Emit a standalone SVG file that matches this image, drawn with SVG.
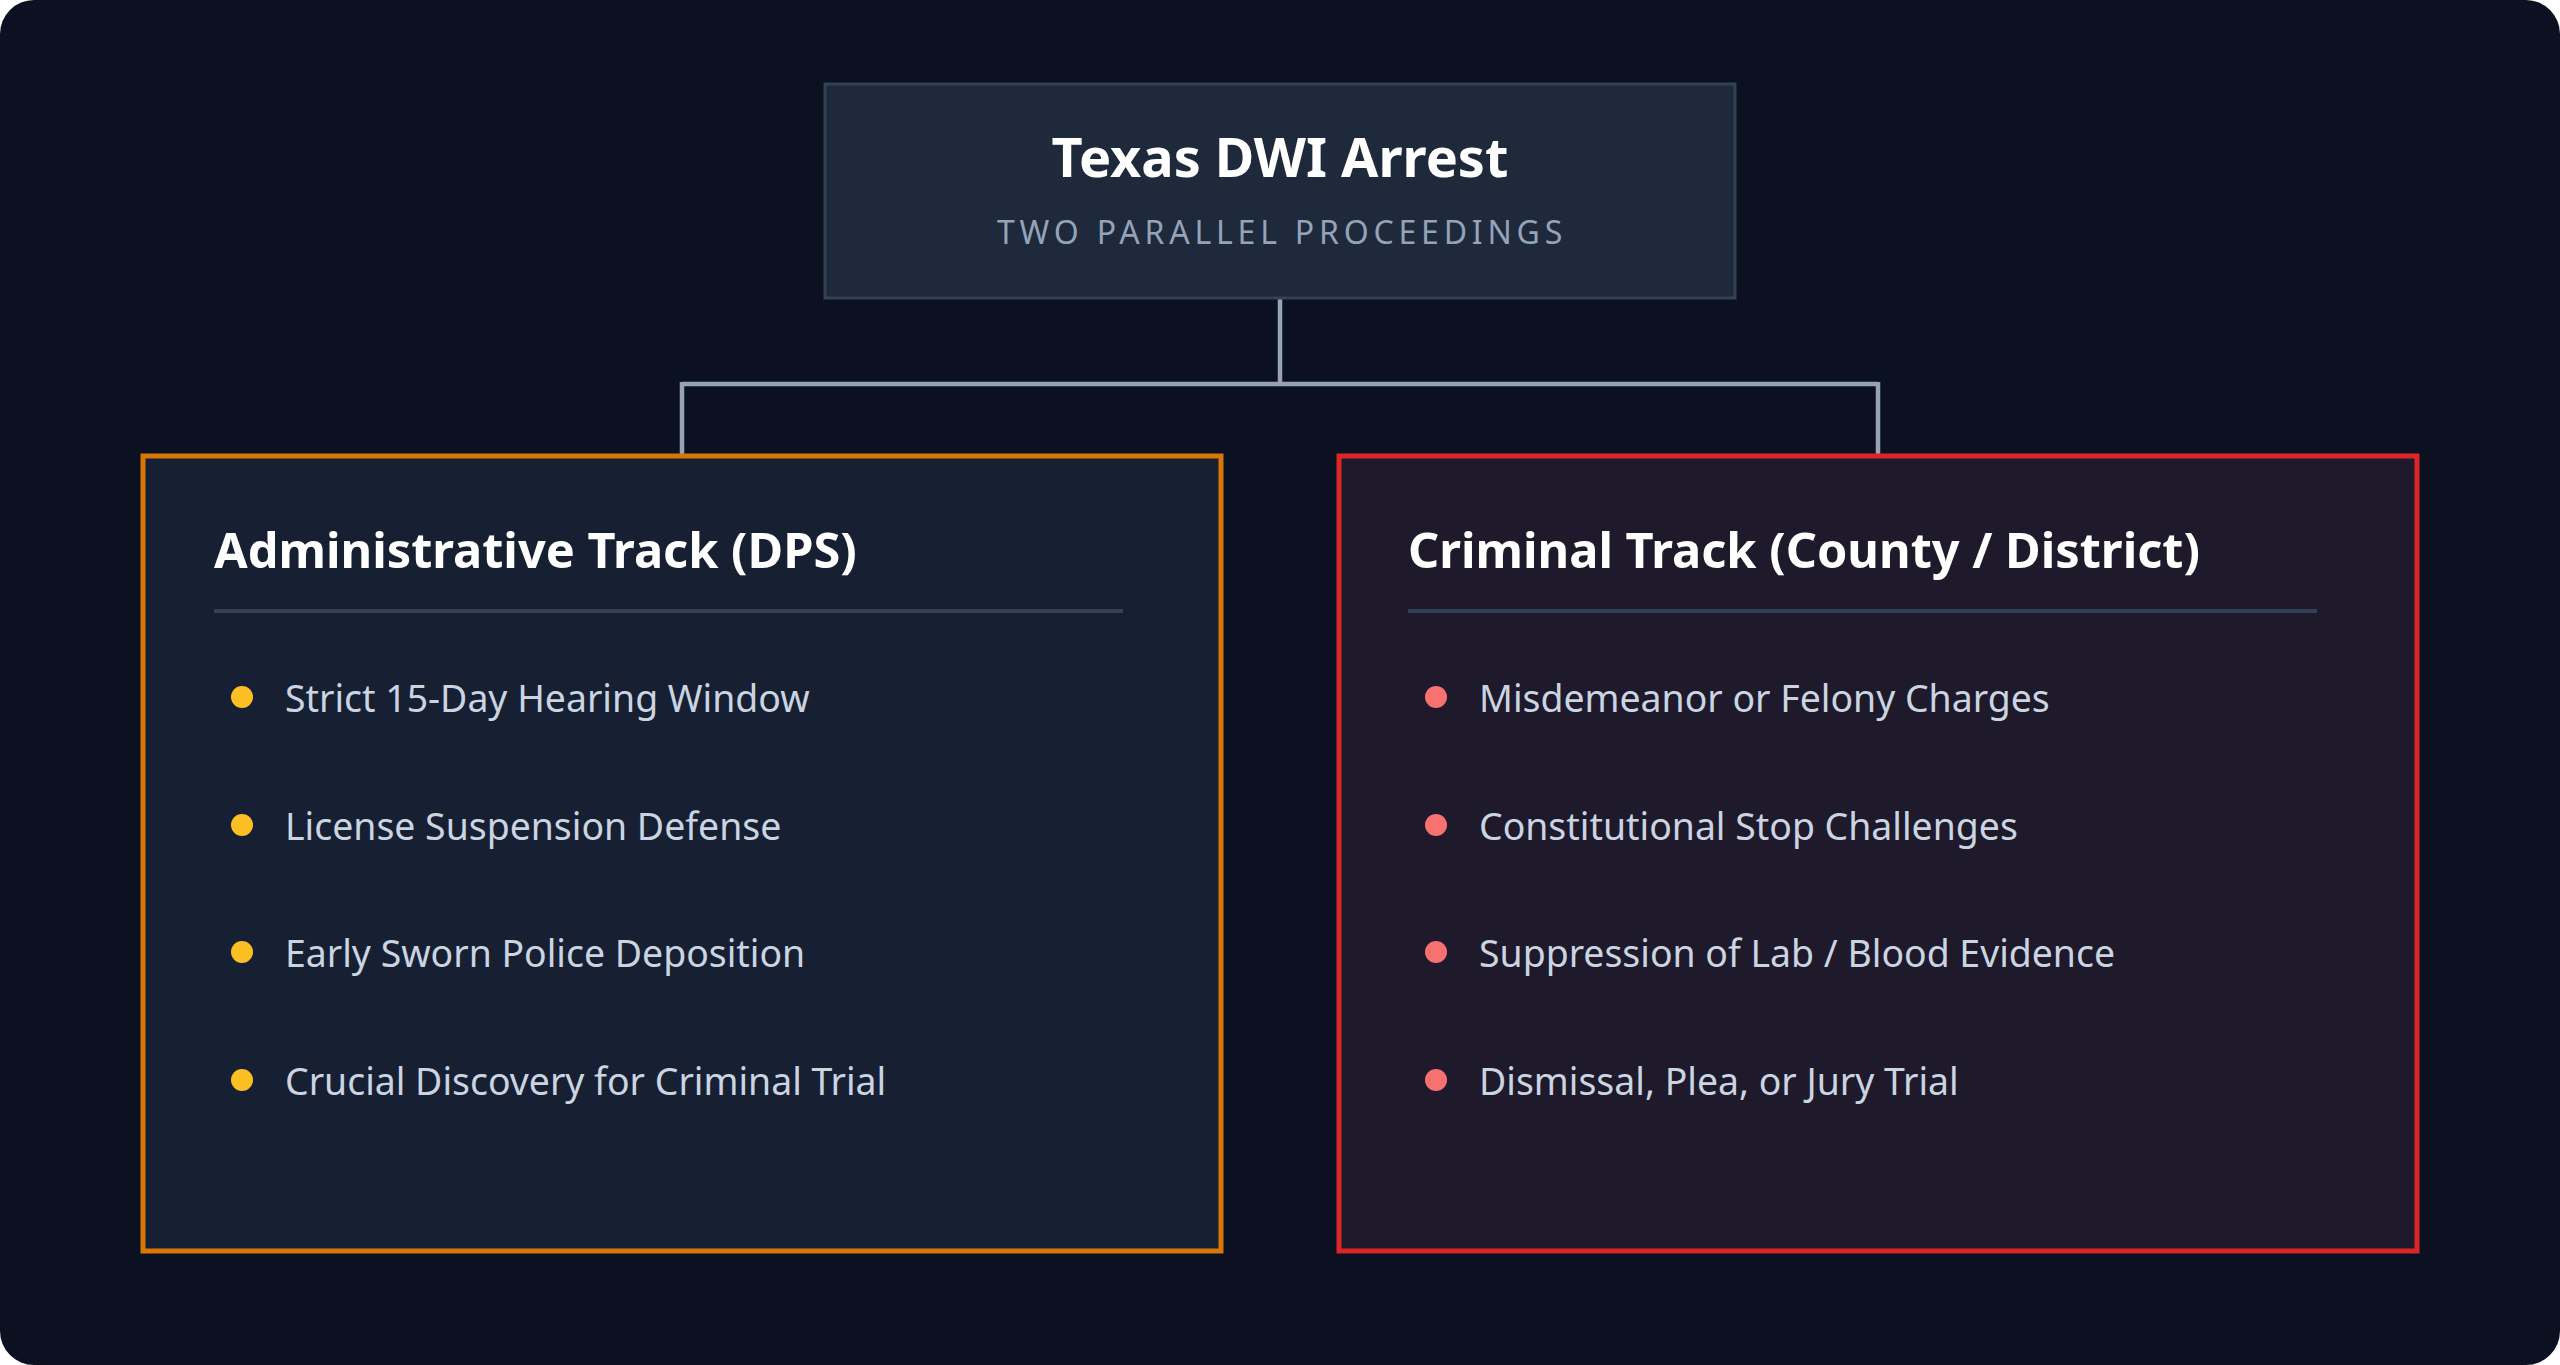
<svg xmlns="http://www.w3.org/2000/svg" width="2560" height="1365" viewBox="0 0 2560 1365">
<style>
.title{font-family:"Noto Sans","Open Sans",sans-serif;font-weight:700;font-size:54px;fill:#ffffff;text-anchor:middle}
.sub{font-family:"Noto Sans","Open Sans",sans-serif;font-weight:400;font-size:32px;fill:#94a3b8;text-anchor:middle;letter-spacing:4.8px}
.head{font-family:"Noto Sans","Open Sans",sans-serif;font-weight:700;font-size:48.7px;fill:#ffffff}
.item{font-family:"Noto Sans","Open Sans",sans-serif;font-weight:400;font-size:37.4px;fill:#cbd5e1}
.conn{stroke:#94a3b8;stroke-width:4.5;fill:none}
.div{stroke:#334155;stroke-width:4}
</style>
<rect x="0" y="0" width="2560" height="1365" rx="34" fill="#0b1120"/>
<g id="connectors">
<path class="conn" d="M1280 299 V384 M682 384 H1878 M682 382 V454 M1878 382 V454"/>
</g>
<g id="root">
<rect x="825" y="84" width="910" height="214" fill="#1e293b" stroke="#334155" stroke-width="3"/>
<text class="title" x="1280" y="177">Texas DWI Arrest</text>
<text class="sub" x="1282" y="244">TWO PARALLEL PROCEEDINGS</text>
</g>
<g id="admin">
<rect x="143" y="456" width="1078" height="795" fill="#172033" stroke="#d97706" stroke-width="5"/>
<text class="head" x="214" y="568">Administrative Track (DPS)</text>
<line class="div" x1="214" y1="611" x2="1123" y2="611"/>
<g fill="#fbbf24">
<circle cx="242" cy="697" r="11"/>
<circle cx="242" cy="825" r="11"/>
<circle cx="242" cy="952" r="11"/>
<circle cx="242" cy="1080" r="11"/>
</g>
<text class="item" x="285" y="712">Strict 15-Day Hearing Window</text>
<text class="item" x="285" y="840">License Suspension Defense</text>
<text class="item" x="285" y="967">Early Sworn Police Deposition</text>
<text class="item" x="285" y="1095">Crucial Discovery for Criminal Trial</text>
</g>
<g id="criminal">
<rect x="1339" y="456" width="1078" height="795" fill="#1e1a2b" stroke="#dc2626" stroke-width="5"/>
<text class="head" x="1408" y="568">Criminal Track (County / District)</text>
<line class="div" x1="1408" y1="611" x2="2317" y2="611"/>
<g fill="#f87171">
<circle cx="1436" cy="697" r="11"/>
<circle cx="1436" cy="825" r="11"/>
<circle cx="1436" cy="952" r="11"/>
<circle cx="1436" cy="1080" r="11"/>
</g>
<text class="item" x="1479" y="712">Misdemeanor or Felony Charges</text>
<text class="item" x="1479" y="840">Constitutional Stop Challenges</text>
<text class="item" x="1479" y="967">Suppression of Lab / Blood Evidence</text>
<text class="item" x="1479" y="1095">Dismissal, Plea, or Jury Trial</text>
</g>
</svg>
